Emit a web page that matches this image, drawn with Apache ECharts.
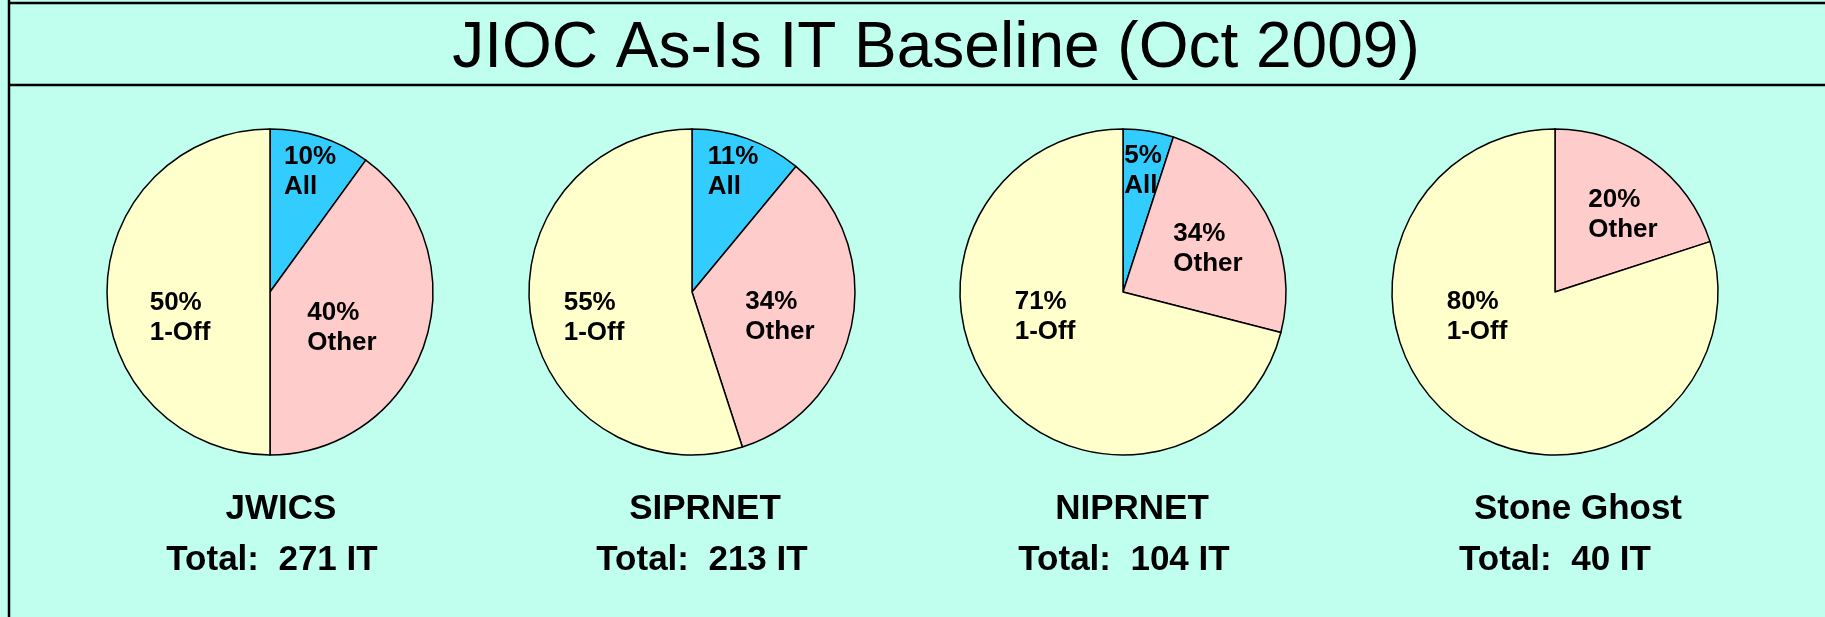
<!DOCTYPE html>
<html>
<head>
    <meta charset="utf-8">
    <style>
        html, body {
            height: 100%;
        }

        * {
            margin: 0;
            padding: 0;
        }

        body {
            background: #c0ffee;
        }

        #container {
            width: 1825px;
            height: 617px;
        }
    </style>
</head>
<body>
<div id="container"></div>
<script type="text/javascript" src="https://cdn.jsdelivr.net/npm/echarts@6/dist/echarts.min.js"></script>
<script type="text/javascript">
    let categories = ['All', 'Other', '1-Off'];
    let networks = ['JWICS', 'SIPRNET', 'NIPRNET', 'Stone Ghost'];
    let totals = [271, 213, 104, 40];

    // slice sizes as drawn (percent)
    let jwicsShare = [10, 40, 50];
    let siprnetShare = [11, 34, 55];
    let niprnetShare = [5, 24, 71];
    let stoneGhostShare = [0, 20, 80];

    // percentages as printed on the slices (NIPRNET prints 34% on a ~24% slice)
    let jwicsPct = ['10%', '40%', '50%'];
    let siprnetPct = ['11%', '34%', '55%'];
    let niprnetPct = ['5%', '34%', '71%'];
    let stoneGhostPct = ['', '20%', '80%'];

    let shares = [jwicsShare, siprnetShare, niprnetShare, stoneGhostShare];
    let pcts = [jwicsPct, siprnetPct, niprnetPct, stoneGhostPct];

    let colors = ['#33ccff', '#ffcccc', '#ffffcc'];
    let font = '"Liberation Sans", Arial, sans-serif';

    // layout
    let centersX = [270, 692, 1123, 1555];
    let centerY = 292;
    let radius = 163;
    // where each slice label sits, relative to the pie centre
    let labelOffsets = [
        [[40, -120], [72, 36], [-90, 26]],
        [[41, -120], [88, 25], [-98, 26]],
        [[20, -121], [85, -43], [-78, 25]],
        [[0, 0], [68, -77], [-78, 25]]
    ];
    let nameX = [276, 700, 1127, 1573];
    let totalX = [267, 697, 1119, 1550];

    let dom = document.getElementById("container");
    let myChart = echarts.init(dom);

    let titles = [{
        text: 'JIOC As-Is IT Baseline (Oct 2009)',
        left: 931,
        top: 12,
        textAlign: 'center',
        textStyle: {
            fontFamily: font,
            fontSize: 64,
            fontWeight: 'normal',
            color: '#000'
        }
    }];
    networks.forEach(function (name, i) {
        titles.push({
            text: name,
            left: nameX[i],
            top: 487,
            textAlign: 'center',
            textStyle: {fontFamily: font, fontSize: 35, fontWeight: 'bold', color: '#000'}
        });
        titles.push({
            text: 'Total:  ' + totals[i] + ' IT',
            left: totalX[i],
            top: 538,
            textAlign: 'center',
            textStyle: {fontFamily: font, fontSize: 35, fontWeight: 'bold', color: '#000'}
        });
    });

    let series = shares.map(function (values, p) {
        return {
            type: 'pie',
            center: [centersX[p], centerY],
            radius: radius,
            startAngle: 90,
            clockwise: true,
            animation: false,
            silent: true,
            itemStyle: {
                borderColor: '#000',
                borderWidth: 1.5
            },
            label: {
                show: true,
                position: 'center',
                formatter: function (params) {
                    return '{a|' + pcts[p][params.dataIndex] + '}\n{a|' + params.name + '}';
                },
                rich: {
                    a: {
                        align: 'left',
                        fontFamily: font,
                        fontSize: 26,
                        fontWeight: 'bold',
                        lineHeight: 30,
                        color: '#000'
                    }
                }
            },
            labelLine: {show: false},
            labelLayout: function (params) {
                let off = labelOffsets[p][params.dataIndex];
                return {dx: off[0], dy: off[1]};
            },
            data: values.map(function (v, i) {
                return {
                    name: categories[i],
                    value: v,
                    itemStyle: {color: colors[i]},
                    label: {show: v > 0}
                };
            })
        };
    });

    let option = {
        backgroundColor: '#c0ffee',
        title: titles,
        graphic: [
            {type: 'line', shape: {x1: 9, y1: 0, x2: 9, y2: 617}, style: {stroke: '#000', lineWidth: 2.5}},
            {type: 'line', shape: {x1: 9, y1: 3, x2: 1825, y2: 3}, style: {stroke: '#000', lineWidth: 2.5}},
            {type: 'line', shape: {x1: 9, y1: 85, x2: 1825, y2: 85}, style: {stroke: '#000', lineWidth: 2.5}}
        ],
        series: series
    };
    myChart.setOption(option, true);
</script>
</body>
</html>
